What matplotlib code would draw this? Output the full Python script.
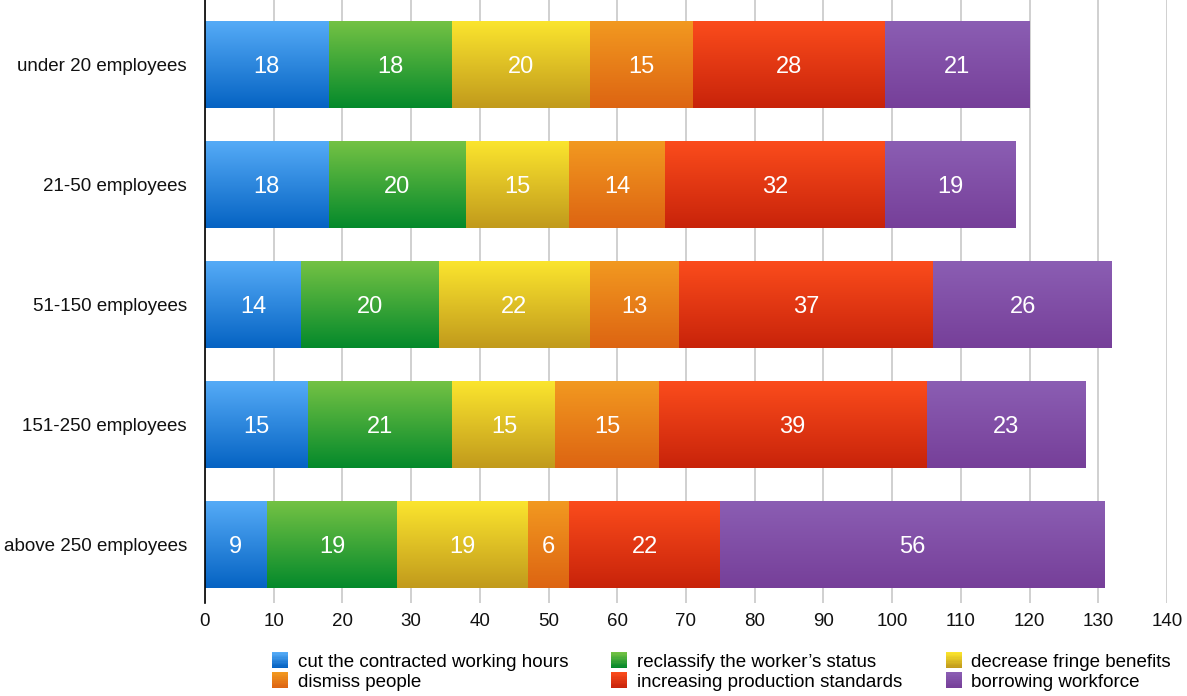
import numpy as np
import matplotlib.pyplot as plt
from matplotlib.colors import LinearSegmentedColormap
from matplotlib.legend_handler import HandlerBase
from matplotlib.patches import Rectangle

plt.rcParams['font.family'] = ['Liberation Sans', 'DejaVu Sans']

# dados
categories = ["under 20 employees", "21-50 employees", "51-150 employees",
              "151-250 employees", "above 250 employees"]
series = ["cut the contracted working hours", "reclassify the worker\u2019s status",
          "decrease fringe benefits", "dismiss people",
          "increasing production standards", "borrowing workforce"]
cut_hours = [18, 18, 14, 15, 9]
reclassify = [18, 20, 20, 21, 19]
fringe = [20, 15, 22, 15, 19]
dismiss = [15, 14, 13, 15, 6]
production = [28, 32, 37, 39, 22]
borrowing = [21, 19, 26, 23, 56]
values = [cut_hours, reclassify, fringe, dismiss, production, borrowing]

# cores (topo, base) do gradiente
colors = [("#55abf7", "#0563c3"), ("#74c244", "#04892b"), ("#fbe52e", "#c19a1c"),
          ("#f29920", "#dd6412"), ("#fb4c1c", "#c8230a"), ("#8b5eb3", "#763f99")]

fig = plt.figure(figsize=(11.87, 6.96), dpi=100)
ax = fig.add_axes([205 / 1187, 1 - 603 / 696, (1167 - 205) / 1187, 603 / 696])

ypos = np.arange(len(categories))[::-1]
h = 0.725
grad = np.linspace(0, 1, 256).reshape(-1, 1)

left = np.zeros(len(categories))
for vals, (top, bot) in zip(values, colors):
    cmap = LinearSegmentedColormap.from_list("g", [bot, top])
    for i, v in enumerate(vals):
        y = ypos[i]
        ax.imshow(grad, cmap=cmap, origin='lower', aspect='auto', zorder=2,
                  extent=(left[i], left[i] + v, y - h / 2, y + h / 2),
                  interpolation='bilinear')
        ax.text(left[i] + v / 2, y, f"{v}", color='white', fontsize=17,
                ha='center', va='center_baseline', zorder=3)
    left += np.array(vals)

ax.set_xlim(0, 140)
ax.set_ylim(-0.485, 4.54)
ax.set_xticks(np.arange(0, 141, 10))
ax.set_yticks(ypos)
ax.set_yticklabels(categories)
ax.tick_params(axis='both', length=0, labelsize=13.5, colors='#111111')
ax.tick_params(axis='x', pad=7)
ax.tick_params(axis='y', pad=13)
ax.xaxis.grid(True, color='#c8c8c8', linewidth=1.2, zorder=0)
ax.set_axisbelow(True)
for s in ['top', 'right', 'bottom']:
    ax.spines[s].set_visible(False)
ax.spines['left'].set_color('black')
ax.spines['left'].set_linewidth(1.2)
ax.spines['left'].set_zorder(4)


class GradHandler(HandlerBase):
    def __init__(self, top, bot):
        super().__init__()
        self.top, self.bot = top, bot

    def create_artists(self, legend, orig_handle, xdescent, ydescent,
                       width, height, fontsize, trans):
        cmap = LinearSegmentedColormap.from_list("g", [self.bot, self.top])
        n = 12
        arts = []
        size = 11.5
        x0 = 0
        y0 = (height - size) / 2 - ydescent
        for k in range(n):
            r = Rectangle((x0 - xdescent, y0 + k * size / n), size, size / n + 0.1,
                          facecolor=cmap(k / (n - 1)), edgecolor='none', transform=trans)
            arts.append(r)
        return arts


handles = [Rectangle((0, 0), 1, 1) for _ in series]
hmap = {hd: GradHandler(*c) for hd, c in zip(handles, colors)}
order = [0, 3, 1, 4, 2, 5]
fig.legend([handles[i] for i in order], [series[i] for i in order], handler_map=hmap,
           ncol=3, frameon=False, loc='upper left', bbox_to_anchor=(0.229, 0.061),
           fontsize=13.5, handlelength=0.85, handletextpad=0.53, columnspacing=2.3,
           labelspacing=0.15, borderaxespad=0, borderpad=0)

fig.savefig("out.png", dpi=100)
